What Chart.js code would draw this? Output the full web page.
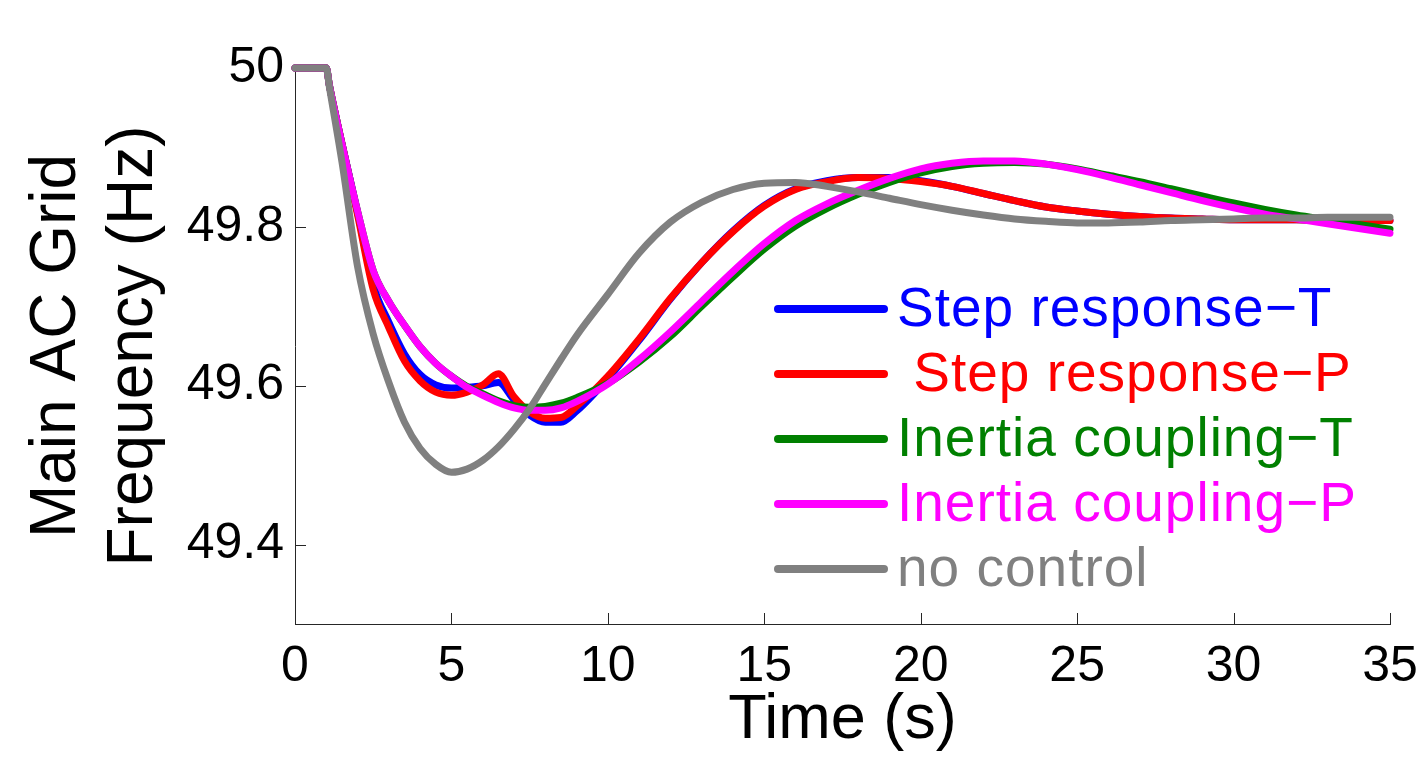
<!DOCTYPE html>
<html>
<head>
<meta charset="utf-8">
<script src="https://cdn.jsdelivr.net/npm/chart.js@4/dist/chart.umd.min.js"></script>
<style>
  html, body { margin: 0; padding: 0; background: #fff; }
  #wrap { width: 1418px; height: 758px; }
</style>
</head>
<body>
<div id="wrap"><canvas id="freqChart"></canvas></div>
<script>
// time (s)
const time = [0, 1, 1.1, 1.5, 2, 2.5, 3, 3.5, 4, 4.5, 5, 5.5, 6, 6.5, 7, 7.5, 8, 8.5, 9, 10,
  11, 12, 13, 14, 15, 16, 17, 18, 19, 20, 21, 22, 23, 24, 25, 26, 27, 28, 29, 30,
  31, 32, 33, 34, 35];

// frequency (Hz) per series
const stepT = [50, 50, 49.978, 49.905, 49.818, 49.727, 49.680, 49.640, 49.614, 49.601, 49.597, 49.598, 49.600, 49.604, 49.582, 49.563, 49.554, 49.554, 49.568, 49.609,
  49.657, 49.709, 49.755, 49.795, 49.827, 49.848, 49.858, 49.862, 49.862, 49.858, 49.851, 49.842, 49.833, 49.825, 49.820, 49.816, 49.813, 49.811, 49.810, 49.809,
  49.809, 49.809, 49.808, 49.808, 49.808];
const stepP = [50, 50, 49.978, 49.905, 49.815, 49.721, 49.673, 49.631, 49.606, 49.592, 49.588, 49.592, 49.601, 49.615, 49.586, 49.567, 49.559, 49.560, 49.574, 49.612,
  49.659, 49.710, 49.755, 49.794, 49.826, 49.847, 49.857, 49.862, 49.861, 49.857, 49.851, 49.842, 49.833, 49.825, 49.820, 49.816, 49.813, 49.811, 49.810, 49.809,
  49.809, 49.809, 49.808, 49.808, 49.808];
const inertiaT = [50, 50, 49.978, 49.905, 49.820, 49.745, 49.706, 49.676, 49.649, 49.628, 49.612, 49.599, 49.590, 49.581, 49.575, 49.573, 49.574, 49.578, 49.585, 49.603,
  49.630, 49.662, 49.700, 49.737, 49.772, 49.801, 49.823, 49.841, 49.856, 49.868, 49.876, 49.880, 49.881, 49.879, 49.873, 49.865, 49.857, 49.848, 49.839, 49.830,
  49.822, 49.815, 49.809, 49.803, 49.797];
const inertiaP = [50, 50, 49.978, 49.905, 49.820, 49.745, 49.706, 49.676, 49.649, 49.628, 49.612, 49.598, 49.588, 49.579, 49.572, 49.569, 49.569, 49.572, 49.580, 49.602,
  49.633, 49.668, 49.706, 49.744, 49.779, 49.808, 49.829, 49.846, 49.861, 49.873, 49.880, 49.883, 49.883, 49.879, 49.872, 49.863, 49.853, 49.843, 49.833, 49.824,
  49.816, 49.810, 49.804, 49.798, 49.792];
const noControl = [50, 50, 49.976, 49.882, 49.750, 49.665, 49.604, 49.554, 49.521, 49.501, 49.491, 49.495, 49.506, 49.523, 49.545, 49.571, 49.602, 49.633, 49.663, 49.715,
  49.767, 49.806, 49.831, 49.847, 49.855, 49.856, 49.851, 49.844, 49.836, 49.828, 49.821, 49.815, 49.810, 49.807, 49.805, 49.805, 49.806, 49.808, 49.809, 49.810,
  49.811, 49.811, 49.812, 49.812, 49.812];

const seriesNames = ['Step response\u2212T', ' Step response\u2212P', 'Inertia coupling\u2212T', 'Inertia coupling\u2212P', 'no control'];
const seriesColors = ['#0000ff', '#ff0000', '#008000', '#ff00ff', '#808080'];
const seriesValues = [stepT, stepP, inertiaT, inertiaP, noControl];
const drawOrder = [5, 4, 3, 2, 1]; // gray ends up on top

const xTicks = [0, 5, 10, 15, 20, 25, 30, 35];
const yTicks = [49.4, 49.6, 49.8, 50];
const yTickLabels = ['49.4', '49.6', '49.8', '50'];

const FONT = '"Liberation Sans", Arial, Helvetica, sans-serif';
const axisColor = '#262626';

// MATLAB style ticks pointing into the plot
const inwardTicks = {
  id: 'inwardTicks',
  beforeDatasetsDraw(chart) {
    const { ctx, chartArea, scales } = chart;
    ctx.save();
    ctx.strokeStyle = axisColor;
    ctx.lineWidth = 1;
    ctx.beginPath();
    scales.x.ticks.forEach(t => {
      const px = Math.round(scales.x.getPixelForValue(t.value)) + 0.5;
      ctx.moveTo(px, chartArea.bottom);
      ctx.lineTo(px, chartArea.bottom - 11);
    });
    scales.y.ticks.forEach(t => {
      const py = Math.round(scales.y.getPixelForValue(t.value)) + 0.5;
      ctx.moveTo(chartArea.left, py);
      ctx.lineTo(chartArea.left + 11, py);
    });
    ctx.stroke();
    ctx.restore();
  }
};

// legend sits inside the axes, lower right
const innerLegend = {
  id: 'innerLegend',
  afterDatasetsDraw(chart) {
    const { ctx, chartArea } = chart;
    const x0 = chartArea.left + 483;
    const y0 = chartArea.top + 241;
    ctx.save();
    ctx.font = '55px ' + FONT;
    ctx.letterSpacing = '1px';
    ctx.textBaseline = 'alphabetic';
    ctx.textAlign = 'left';
    chart.data.datasets.forEach((ds, i) => {
      const y = y0 + i * 65;
      ctx.strokeStyle = ds.borderColor;
      ctx.lineWidth = 8;
      ctx.lineCap = 'round';
      ctx.beginPath();
      ctx.moveTo(x0, y);
      ctx.lineTo(x0 + 106, y);
      ctx.stroke();
      ctx.fillStyle = ds.borderColor;
      ctx.fillText(ds.label, x0 + 119, y + 17);
    });
    ctx.restore();
  }
};

const datasets = seriesNames.map((name, i) => ({
  label: name,
  data: time.map((t, k) => ({ x: t, y: seriesValues[i][k] })),
  borderColor: seriesColors[i],
  backgroundColor: seriesColors[i],
  borderWidth: 7,
  borderCapStyle: 'round',
  borderJoinStyle: 'round',
  pointRadius: 0,
  cubicInterpolationMode: 'monotone',
  clip: false,
  order: drawOrder[i]
}));

new Chart(document.getElementById('freqChart'), {
  type: 'line',
  data: { datasets },
  options: {
    responsive: true,
    maintainAspectRatio: false,
    animation: false,
    layout: { padding: { top: 68, right: 28, left: 0, bottom: 0 } },
    plugins: {
      legend: { display: false },
      tooltip: { enabled: false }
    },
    scales: {
      x: {
        type: 'linear',
        min: 0,
        max: 35,
        afterBuildTicks: scale => { scale.ticks = xTicks.map(v => ({ value: v })); },
        afterFit: scale => {
          scale.height = 134;
          scale.paddingLeft = 0;
          scale.paddingRight = 0;
        },
        grid: { display: true, drawOnChartArea: false, drawTicks: false },
        border: { display: true, color: axisColor, width: 1 },
        ticks: {
          color: '#000',
          padding: 13,
          maxRotation: 0,
          font: { family: FONT, size: 50 }
        },
        title: {
          display: true,
          text: 'Time (s)',
          color: '#000',
          font: { family: FONT, size: 63 },
          padding: { top: 0, bottom: 0 }
        }
      },
      y: {
        type: 'linear',
        min: 49.3,
        max: 50,
        afterBuildTicks: scale => { scale.ticks = yTicks.map(v => ({ value: v })); },
        afterFit: scale => {
          scale.width = 295;
          scale.paddingTop = 0;
          scale.paddingBottom = 0;
        },
        grid: { display: true, drawOnChartArea: false, drawTicks: false },
        border: { display: true, color: axisColor, width: 1 },
        ticks: {
          color: '#000',
          padding: 11,
          font: { family: FONT, size: 50 },
          callback: (v, i) => yTickLabels[i]
        },
        title: {
          display: true,
          text: ['Main AC Grid', 'Frequency (Hz)'],
          color: '#000',
          font: { family: FONT, size: 64 },
          padding: { top: 19, bottom: 0 }
        }
      }
    }
  },
  plugins: [inwardTicks, innerLegend]
});
</script>
</body>
</html>
